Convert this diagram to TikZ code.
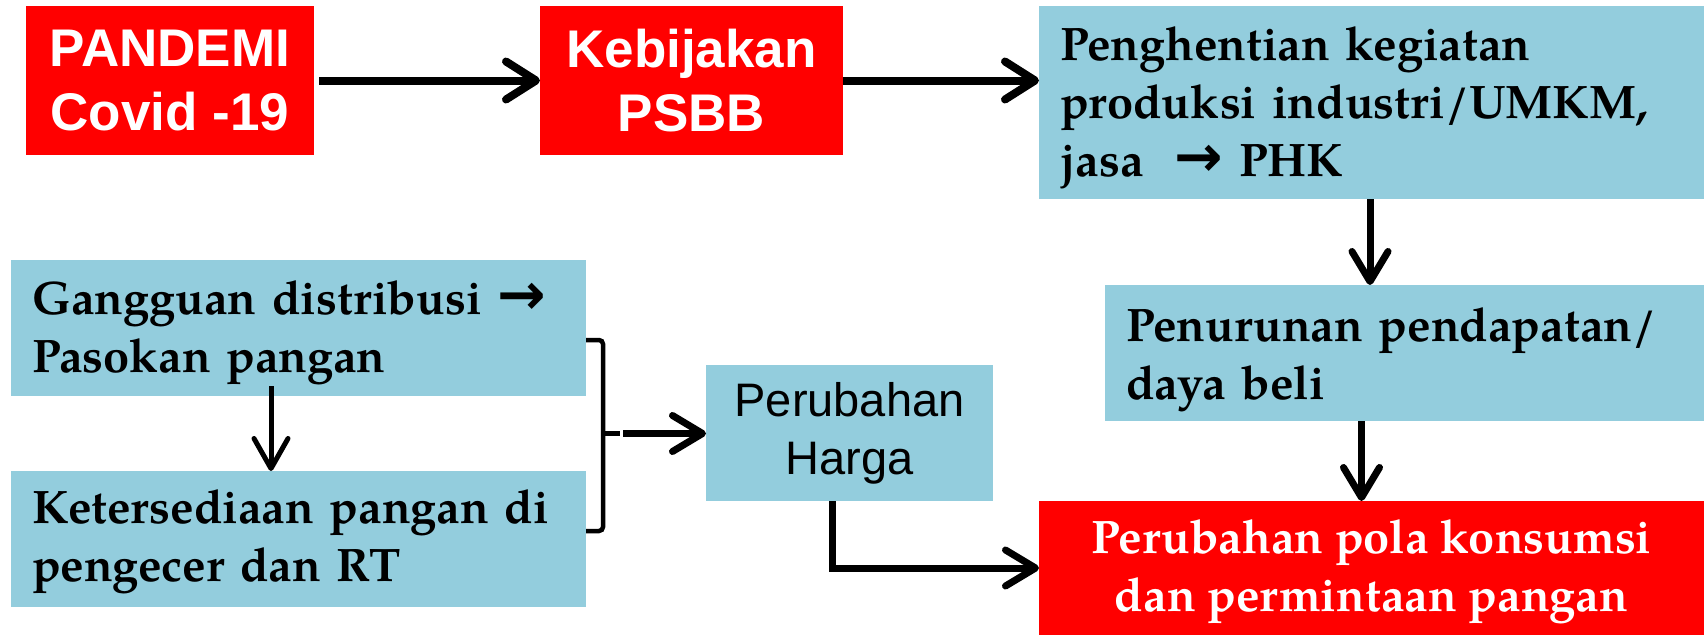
\documentclass[tikz,border=0pt]{standalone}
\usepackage{fontspec}
\newfontfamily\arialf{Liberation Sans}
\newfontfamily\djv{DejaVu Sans}
\newfontfamily\palf{texgyrepagella}[Extension=.otf, UprightFont=*-regular, BoldFont=*-bold]
\newcommand\palb{\palf\bfseries}
\newcommand\rarr{{\djv\bfseries\fontsize{58}{58}\selectfont →}}
% invisible strut that pushes a centred block down by #1
\newcommand\dn[1]{\rule{0pt}{\dimexpr 35pt+2\dimexpr #1\relax\relax}}
\usetikzlibrary{arrows.meta,calc}
\definecolor{blu}{RGB}{147,205,221}
\begin{document}
\begin{tikzpicture}[x=1pt,y=-1pt,
  redbox/.style={fill=red, text=white, align=center, inner sep=0pt, outer sep=0pt,
    font=\arialf\bfseries\fontsize{53}{64}\selectfont},
  bluebox/.style={fill=blu, text=black, align=left, inner sep=0pt, outer sep=0pt,
    font=\palb\fontsize{47}{58}\selectfont},
  polabox/.style={fill=red, text=white, align=center, inner sep=0pt, outer sep=0pt,
    font=\palb\fontsize{47}{58}\selectfont},
  hargabox/.style={fill=blu, text=black, align=center, inner sep=0pt, outer sep=0pt,
    font=\arialf\fontsize{47}{58}\selectfont},
  bigarr/.style={line width=8pt, -{Straight Barb[length=30pt,width=38pt,line cap=round,line join=round]}},
  midarr/.style={line width=7pt, -{Straight Barb[length=30pt,width=36pt,line cap=round,line join=round]}},
  thinarr/.style={line width=5pt, -{Straight Barb[length=30pt,width=34pt,line cap=round,line join=round]}},
  brace/.style={line width=4.5pt, rounded corners=4pt}
]
\useasboundingbox (0,0) rectangle (1704,635);
\fill[white] (0,0) rectangle (1704,635);

\node[redbox, minimum width=288pt, minimum height=149pt] (pand) at (170,80.5) {PANDEMI\\Covid -19};
\node[redbox, minimum width=303pt, minimum height=149pt] (kebij) at (691.5,80.5) {Kebijakan\\PSBB};
\node[bluebox, minimum width=665pt, minimum height=193pt, text width=623pt] (peng) at (1371.5,102.5)
  {\dn{5pt}Penghentian kegiatan\\produksi industri/UMKM,\\jasa\ \ \rarr\ PHK};
\node[bluebox, minimum width=599pt, minimum height=136pt, text width=557pt] (penur) at (1404.5,353)
  {\dn{6.5pt}Penurunan pendapatan/\\daya beli};
\node[polabox, minimum width=665pt, minimum height=134pt] (pola) at (1371.5,568)
  {\dn{3pt}Perubahan pola konsumsi\\dan permintaan pangan};
\node[bluebox, minimum width=575pt, minimum height=136pt, text width=533pt] (gang) at (298.5,328)
  {\dn{4.5pt}Gangguan distribusi \rarr\\Pasokan pangan};
\node[bluebox, minimum width=575pt, minimum height=136pt, text width=533pt] (keter) at (298.5,539)
  {\dn{2pt}Ketersediaan pangan di\\pengecer dan RT};
\node[hargabox, minimum width=287pt, minimum height=136pt] (harga) at (849.5,433)
  {Perubahan\\Harga};

\draw[bigarr, shorten <=5pt] (pand.east) -- (kebij.west);
\draw[bigarr] (kebij.east) -- (kebij.east -| peng.west);
\draw[midarr] ([xshift=-1.5pt]peng.south) -- ([xshift=-1.5pt]peng.south |- penur.north);
\draw[midarr] ([xshift=-10pt]pola.north |- penur.south) -- ([xshift=-10pt]pola.north);
\draw[thinarr] ([xshift=-27.5pt,yshift=10pt]gang.south) -- ([xshift=-27.5pt]keter.north);

\coordinate (bmid) at ($(gang.east)!0.5!(keter.east)$);
\draw[brace] ([yshift=-12pt]gang.east) -- ++(17,0) |- ([yshift=8pt]keter.east);
\draw[line width=4.5pt] ([xshift=17pt]bmid) -- ([xshift=34pt]bmid);
\draw[midarr] ([xshift=37pt]bmid) -- (bmid -| harga.west);
\draw[midarr] ([xshift=-17.5pt]harga.south) |- (pola.west);
\end{tikzpicture}
\end{document}
